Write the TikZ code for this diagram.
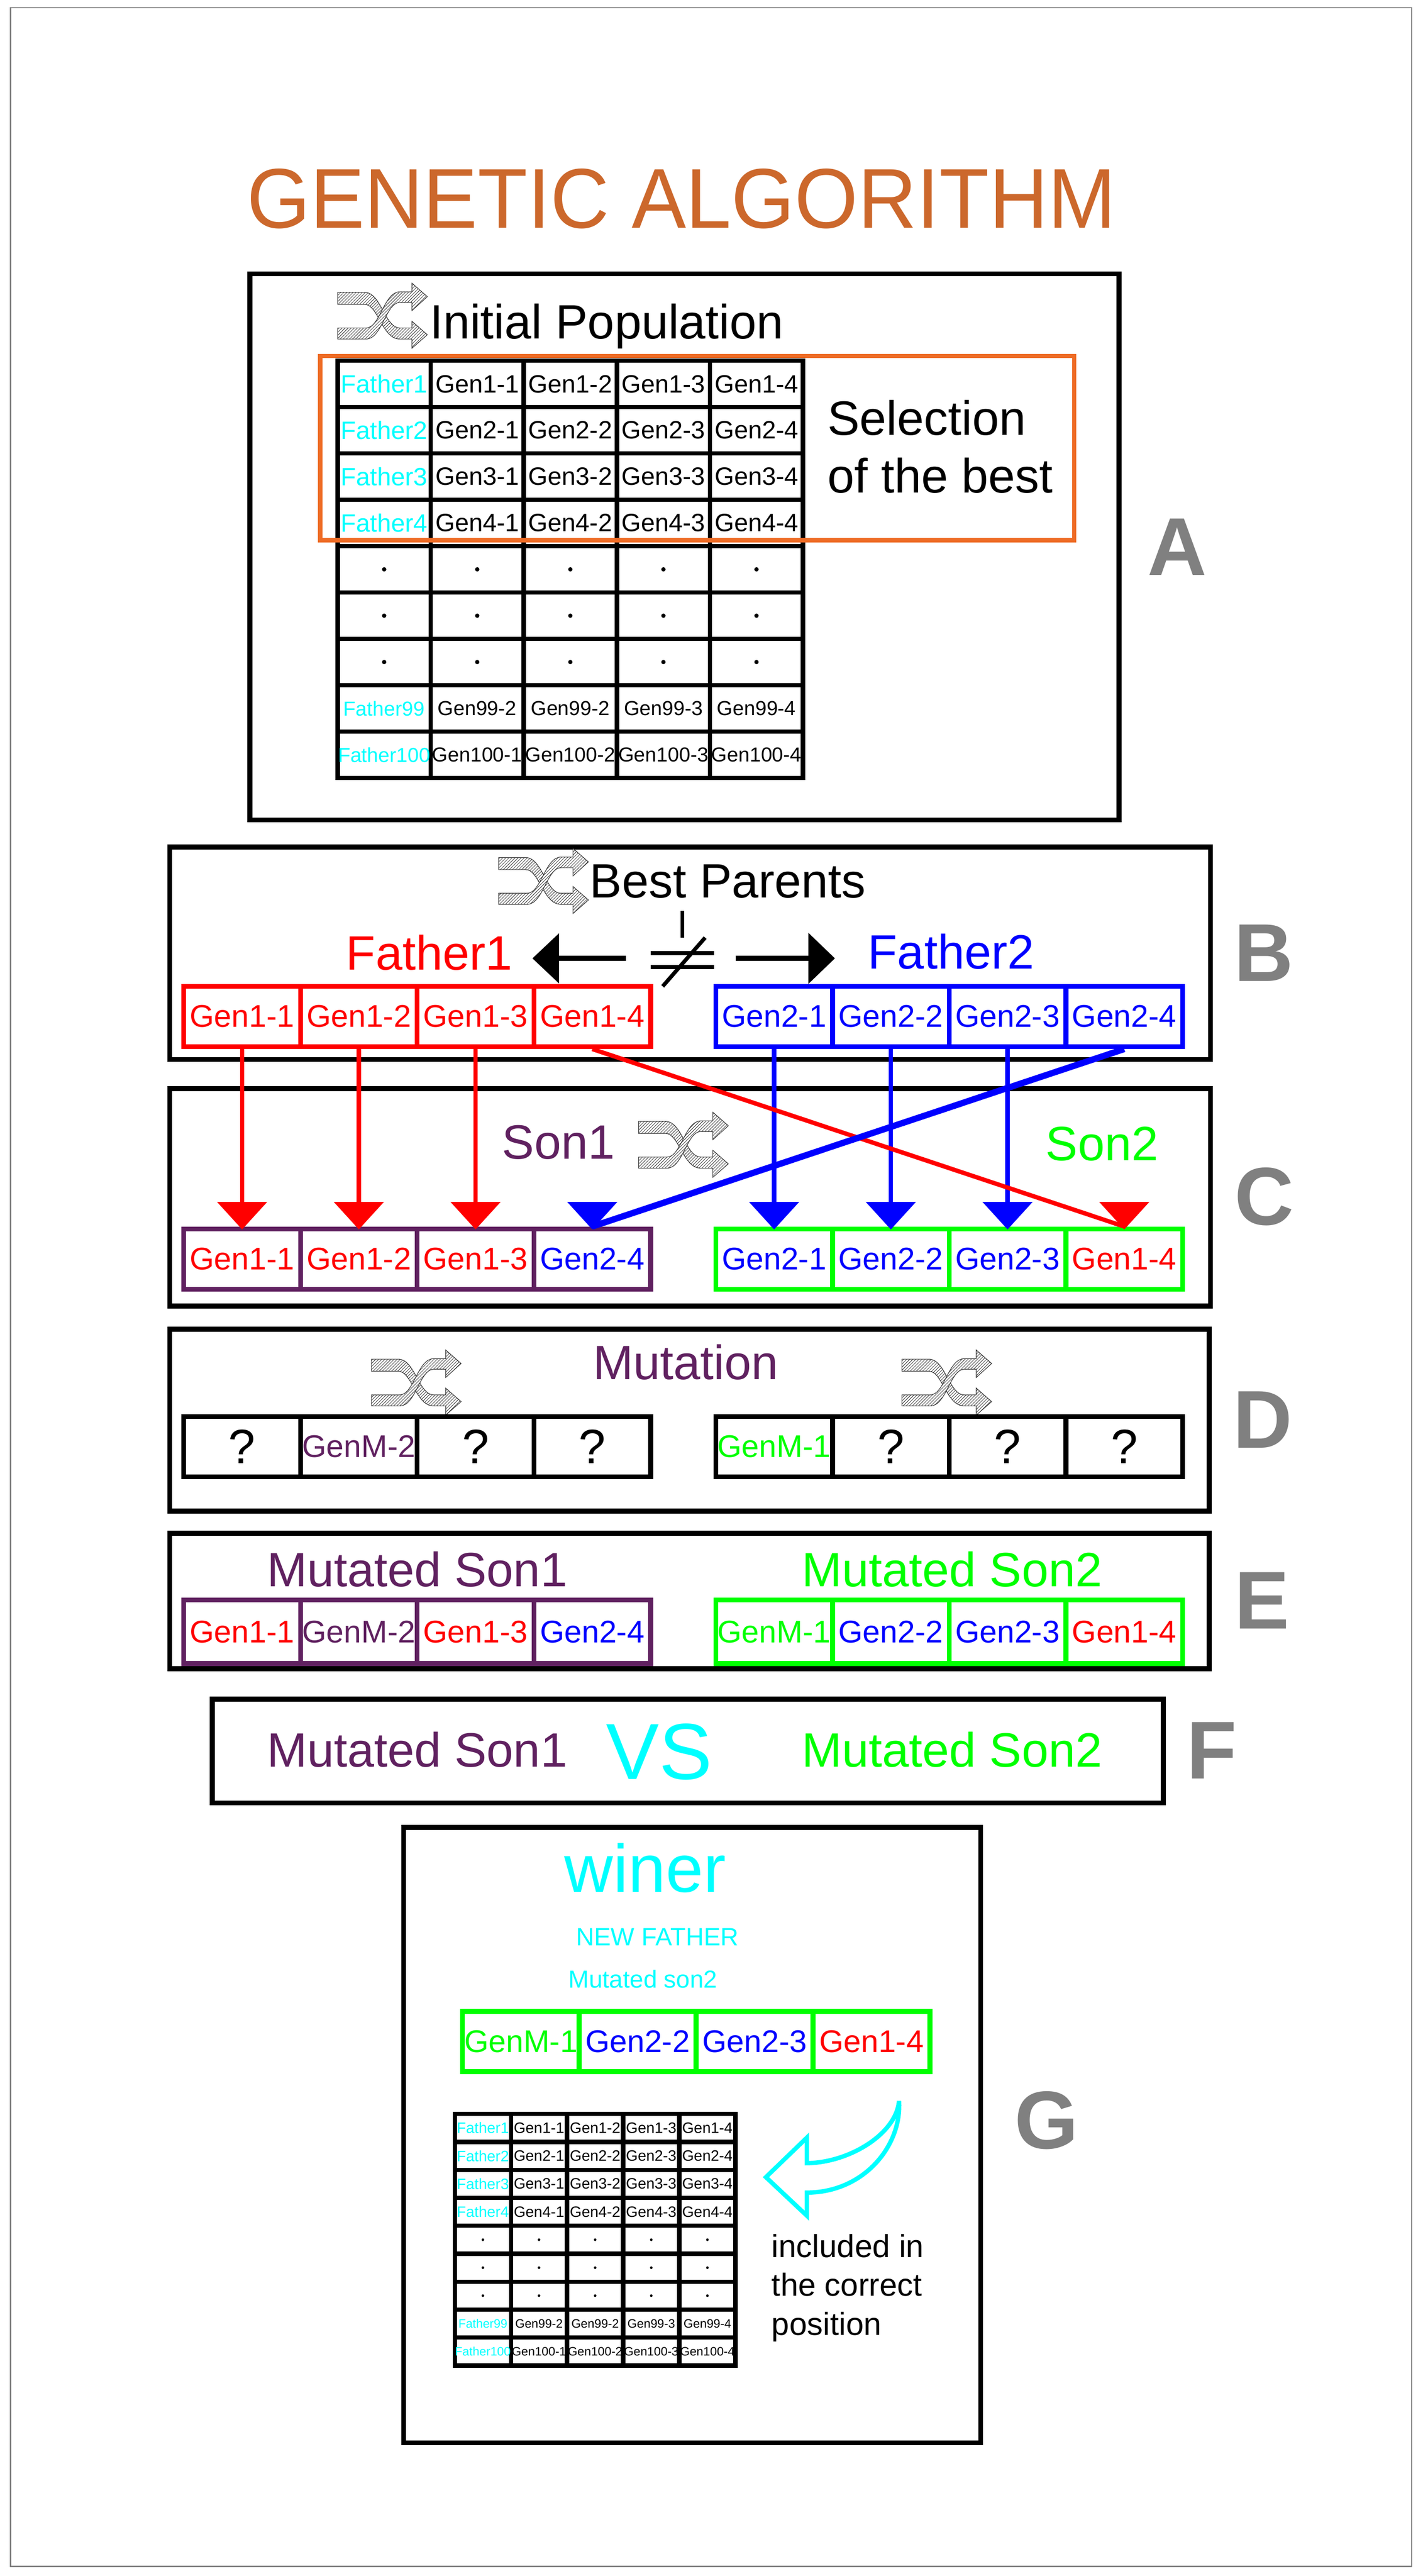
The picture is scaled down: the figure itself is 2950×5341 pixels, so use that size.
\documentclass[tikz,border=0pt]{standalone}
\usepackage{fontspec}
\usepackage{graphicx}
\setmainfont{Liberation Sans}
\usetikzlibrary{fit,patterns.meta,calc}
\definecolor{gacyan}{RGB}{0,255,255}
\definecolor{gared}{RGB}{255,0,0}
\definecolor{gablue}{RGB}{0,0,255}
\definecolor{gagreen}{RGB}{0,255,0}
\definecolor{gapurple}{RGB}{96,33,96}
\definecolor{gaorange}{RGB}{238,108,38}
\definecolor{gatitle}{RGB}{204,104,44}
\definecolor{gagray}{RGB}{128,128,128}
\newcommand{\gafs}[1]{\fontsize{#1pt}{#1pt}\selectfont}
\begin{document}
\begin{tikzpicture}[x=0.1pt,y=-0.1pt,
  panel/.style={draw=black,line width=1pt,inner sep=0pt},
  gcell/.style={draw,line width=1pt,minimum width=24.2pt,minimum height=12.5pt,inner sep=0pt,font=\gafs{6.5}},
  qcell/.style={gcell,font=\gafs{10}},
  letter/.style={text=gagray,font=\gafs{17}\bfseries,inner sep=0pt},
  txt/.style={inner sep=0pt},
  big/.style={txt,font=\gafs{10}},
  conn/.style={line width=0.9pt},
  iconstyle/.style={draw=black!80,line width=0.12pt,preaction={fill=white},
    pattern={Lines[angle=45,distance=0.45pt,line width=0.08pt]},pattern color=black!85},
  shuffle/.pic={
    \path[iconstyle] (0,19) -- (56,19) .. controls (90,19) and (98,93) .. (129,93) -- (154,93) -- (154,79) -- (186,107) -- (154,135) -- (154,116) -- (129,116) .. controls (92,116) and (84,44) .. (56,44) -- (0,44) -- cycle;
    \path[iconstyle] (0,93) -- (59,93) .. controls (88,93) and (96,18) .. (129,18) -- (154,18) -- (154,0) -- (186,28) -- (154,57) -- (154,40) -- (129,40) .. controls (100,40) and (92,116) .. (59,116) -- (0,116) -- cycle;
  },
  poptable/.pic={
    \foreach \i in {0,...,5} \draw[line width=0.9pt,line cap=rect] (193*\i,0) -- (193*\i,864.9);
    \foreach \j in {0,...,9} \draw[line width=0.9pt,line cap=rect] (0,96.1*\j) -- (965,96.1*\j);
    \foreach \r in {1,...,4} {
      \node[txt,text=gacyan,font=\gafs{5.2}] (-r\r-c1) at (96.5,{96.1*(\r-0.5)}) {Father\r};
      \foreach \c in {2,...,5} {
        \pgfmathtruncatemacro\g{\c-1}
        \node[txt,font=\gafs{5.2}] (-r\r-c\c) at ({193*(\c-0.5)},{96.1*(\r-0.5)}) {Gen\r-\g};
      }
    }
    \foreach \r in {5,6,7} \foreach \c in {1,...,5} \fill ({193*(\c-0.5)},{96.1*(\r-0.5)}) circle[radius=4.5];
    \node[txt,text=gacyan,font=\gafs{4.2}] (-r8-c1) at (96.5,720.75) {Father99};
    \node[txt,font=\gafs{4.2}] (-r8-c2) at (289.5,720.75) {Gen99-2};
    \node[txt,font=\gafs{4.2}] (-r8-c3) at (482.5,720.75) {Gen99-2};
    \node[txt,font=\gafs{4.2}] (-r8-c4) at (675.5,720.75) {Gen99-3};
    \node[txt,font=\gafs{4.2}] (-r8-c5) at (868.5,720.75) {Gen99-4};
    \node[txt,text=gacyan,font=\gafs{4.2}] (-r9-c1) at (96.5,816.85) {Father100};
    \node[txt,font=\gafs{4.2}] (-r9-c2) at (289.5,816.85) {Gen100-1};
    \node[txt,font=\gafs{4.2}] (-r9-c3) at (482.5,816.85) {Gen100-2};
    \node[txt,font=\gafs{4.2}] (-r9-c4) at (675.5,816.85) {Gen100-3};
    \node[txt,font=\gafs{4.2}] (-r9-c5) at (868.5,816.85) {Gen100-4};
  }
]
\useasboundingbox (0,0) rectangle (2950,5341);
\node[draw=gray,line width=0.25pt,inner sep=0pt,fit={(22,16) (2927,5321)}] (frame) {};

% title
\node[txt,text=gatitle,font=\gafs{17.6},anchor=base] (title) at (1413,473) {\scalebox{0.96}[1]{GENETIC ALGORITHM}};

% ---------- A ----------
\node[panel,fit={(518,568) (2320,1700)}] (boxA) {};
\pic at (700,587) {shuffle};
\node[big,anchor=base west] (initpop) at (889,702) {Initial Population};
\pic (popA) at (700,748) {poptable};
\node[draw=gaorange,line width=0.9pt,inner sep=0pt,fit={(664,738) (2227,1120)}] (sel) {};
\node[txt,anchor=north west,align=left,font=\fontsize{10pt}{11.9pt}\selectfont] (seltxt) at (1714,828) {Selection\\of the best};
\node[letter] (labA) at (2441,1134) {A};

% ---------- B ----------
\node[panel,fit={(352,1756) (2510,2197)}] (boxB) {};
\pic at (1034,1759) {shuffle};
\node[big,anchor=base west] (bestp) at (1221,1861) {Best Parents};
\node[big,text=gared,anchor=base] (father1) at (890,2011) {Father1};
\node[big,text=gablue,anchor=base] (father2) at (1972,2009) {Father2};
\node[gcell,draw=gared,text=gared] (f11) at (502,2107.5) {Gen1-1};
\node[gcell,draw=gared,text=gared] (f12) at (744,2107.5) {Gen1-2};
\node[gcell,draw=gared,text=gared] (f13) at (986,2107.5) {Gen1-3};
\node[gcell,draw=gared,text=gared] (f14) at (1228,2107.5) {Gen1-4};
\node[gcell,draw=gablue,text=gablue] (f21) at (1605,2107.5) {Gen2-1};
\node[gcell,draw=gablue,text=gablue] (f22) at (1847,2107.5) {Gen2-2};
\node[gcell,draw=gablue,text=gablue] (f23) at (2089,2107.5) {Gen2-3};
\node[gcell,draw=gablue,text=gablue] (f24) at (2331,2107.5) {Gen2-4};
% not equal sign and arrows
\draw[line width=0.7pt] (1415,1888) -- (1415,1944);
\draw[line width=0.8pt] (1349,1976) -- (1481,1976) (1349,2005) -- (1481,2005);
\draw[line width=0.8pt] (1462,1944) -- (1374,2045);
\coordinate (ltip) at (1104,1987);
\coordinate (lstart) at (1298,1987);
\coordinate (rtip) at (1731,1987);
\coordinate (rstart) at (1525,1987);
\draw[line width=1pt] (lstart) -- ($(ltip)+(55,0)$);
\fill (ltip) -- ++(55,-52) -- ++(0,104) -- cycle;
\draw[line width=1pt] (rstart) -- ($(rtip)+(-55,0)$);
\fill (rtip) -- ++(-55,-53) -- ++(0,106) -- cycle;
\node[letter] (labB) at (2620,1976) {B};

% ---------- C ----------
\node[panel,fit={(352,2257) (2510,2708)}] (boxC) {};
\node[big,text=gapurple,anchor=base] (son1) at (1158,2403) {Son1};
\pic at (1324,2306) {shuffle};
\node[big,text=gagreen,anchor=base] (son2) at (2285,2406) {Son2};
\node[gcell,draw=gapurple,text=gared] (s11) at (502,2610.5) {Gen1-1};
\node[gcell,draw=gapurple,text=gared] (s12) at (744,2610.5) {Gen1-2};
\node[gcell,draw=gapurple,text=gared] (s13) at (986,2610.5) {Gen1-3};
\node[gcell,draw=gapurple,text=gablue] (s14) at (1228,2610.5) {Gen2-4};
\node[gcell,draw=gagreen,text=gablue] (s21) at (1605,2610.5) {Gen2-1};
\node[gcell,draw=gagreen,text=gablue] (s22) at (1847,2610.5) {Gen2-2};
\node[gcell,draw=gagreen,text=gablue] (s23) at (2089,2610.5) {Gen2-3};
\node[gcell,draw=gagreen,text=gared] (s24) at (2331,2610.5) {Gen1-4};
\node[letter] (labC) at (2621,2481) {C};

% connectors B -> C
\draw[conn,gared] (f11.south) -- (s11.north);
\draw[conn,gared] (f12.south) -- (s12.north);
\draw[conn,gared] (f13.south) -- (s13.north);
\draw[conn,gablue] (f21.south) -- (s21.north);
\draw[conn,gablue] (f22.south) -- (s22.north);
\draw[conn,gablue] (f23.south) -- (s23.north);
\draw[line width=0.9pt,gared] (f14.south) -- (s24.north);
\draw[line width=1.3pt,gablue] (f24.south) -- (s14.north);
\foreach \n/\c in {s11/gared,s12/gared,s13/gared,s14/gablue,s21/gablue,s22/gablue,s23/gablue,s24/gared}
  \fill[\c] (\n.north) ++(0,6) -- ++(-52,-57) -- ++(104,0) -- cycle;

% ---------- D ----------
\node[panel,fit={(352,2756) (2507,3133)}] (boxD) {};
\node[big,text=gapurple,anchor=base] (mutation) at (1422,2860) {Mutation};
\pic at (770,2799) {shuffle};
\pic at (1870,2799) {shuffle};
\node[qcell] (m11) at (502,2999.5) {?};
\node[gcell,text=gapurple] (m12) at (744,2999.5) {GenM-2};
\node[qcell] (m13) at (986,2999.5) {?};
\node[qcell] (m14) at (1228,2999.5) {?};
\node[gcell,text=gagreen] (m21) at (1605,2999.5) {GenM-1};
\node[qcell] (m22) at (1847,2999.5) {?};
\node[qcell] (m23) at (2089,2999.5) {?};
\node[qcell] (m24) at (2331,2999.5) {?};
\node[letter] (labD) at (2618,2944) {D};

% ---------- E ----------
\node[panel,fit={(352,3179) (2507,3460)}] (boxE) {};
\node[big,text=gapurple,anchor=base] (ms1) at (865,3289) {Mutated Son1};
\node[big,text=gagreen,anchor=base] (ms2) at (1974,3289) {Mutated Son2};
\node[gcell,minimum height=13.2pt,draw=gapurple,text=gared] (e11) at (502,3383) {Gen1-1};
\node[gcell,minimum height=13.2pt,draw=gapurple,text=gapurple] (e12) at (744,3383) {GenM-2};
\node[gcell,minimum height=13.2pt,draw=gapurple,text=gared] (e13) at (986,3383) {Gen1-3};
\node[gcell,minimum height=13.2pt,draw=gapurple,text=gablue] (e14) at (1228,3383) {Gen2-4};
\node[gcell,minimum height=13.2pt,draw=gagreen,text=gagreen] (e21) at (1605,3383) {GenM-1};
\node[gcell,minimum height=13.2pt,draw=gagreen,text=gablue] (e22) at (1847,3383) {Gen2-2};
\node[gcell,minimum height=13.2pt,draw=gagreen,text=gablue] (e23) at (2089,3383) {Gen2-3};
\node[gcell,minimum height=13.2pt,draw=gagreen,text=gared] (e24) at (2331,3383) {Gen1-4};
\node[letter] (labE) at (2617,3319) {E};

% ---------- F ----------
\node[panel,fit={(440,3523) (2412,3738)}] (boxF) {};
\node[big,text=gapurple,anchor=base] (vs1) at (865,3663) {Mutated Son1};
\node[txt,text=gacyan,font=\gafs{16.5},anchor=base] (vs) at (1367,3689) {VS};
\node[big,text=gagreen,anchor=base] (vs2) at (1974,3663) {Mutated Son2};
\node[letter] (labF) at (2513,3629) {F};

% ---------- G ----------
\node[panel,fit={(837,3789) (2033,5065)}] (boxG) {};
\node[txt,text=gacyan,font=\gafs{14},anchor=base] (winer) at (1338,3923) {winer};
\node[txt,text=gacyan,font=\gafs{5.2},anchor=base] (newf) at (1363,4034) {NEW FATHER};
\node[txt,text=gacyan,font=\gafs{5.1},anchor=base] (mson) at (1333,4122) {Mutated son2};
\node[gcell,minimum width=24.25pt,draw=gagreen,text=gagreen] (w1) at (1080,4232.5) {GenM-1};
\node[gcell,minimum width=24.25pt,draw=gagreen,text=gablue] (w2) at (1322,4232.5) {Gen2-2};
\node[gcell,minimum width=24.25pt,draw=gagreen,text=gablue] (w3) at (1565,4232.5) {Gen2-3};
\node[gcell,minimum width=24.25pt,draw=gagreen,text=gared] (w4) at (1807,4232.5) {Gen1-4};
\pic[scale=0.603,transform shape] (popG) at (943,4383) {poptable};
\draw[gacyan,line width=0.9pt,line join=miter]
  (1588,4514) -- (1673,4432) -- (1673,4485)
  .. controls (1760,4484) and (1858,4425) .. (1864,4356)
  .. controls (1870,4450) and (1790,4546) .. (1673,4546)
  -- (1673,4594) -- cycle;
\node[txt,anchor=north west,align=left,font=\fontsize{6.6pt}{8.1pt}\selectfont] (incl) at (1598,4630) {included in\\the correct\\position};
\node[letter] (labG) at (2170,4396) {G};
\end{tikzpicture}
\end{document}
